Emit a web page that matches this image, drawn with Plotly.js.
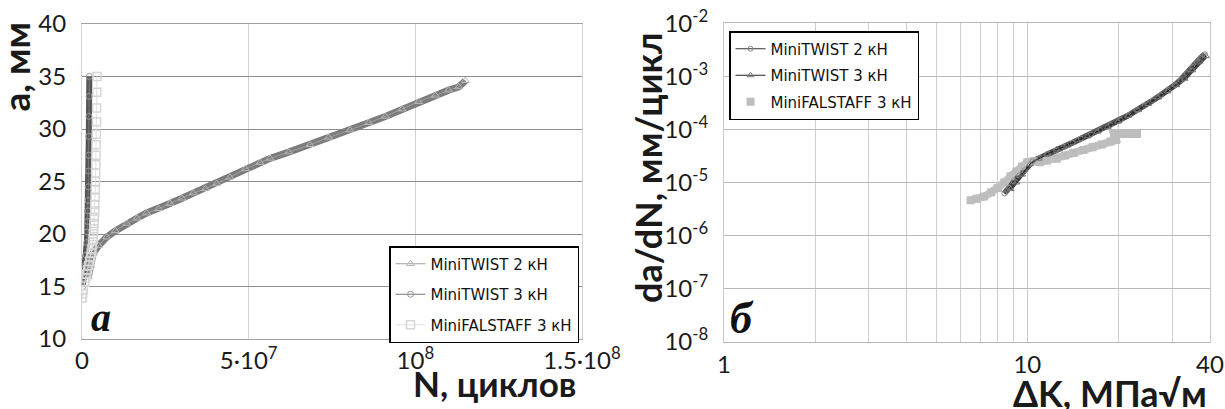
<!DOCTYPE html>
<html>
<head>
<meta charset="utf-8">
<script src="https://cdn.plot.ly/plotly-3.0.1.min.js"></script>
<style>html,body{margin:0;padding:0;background:#fff;}#chart{width:1225px;height:409px;}</style>
</head>
<body>
<div id="chart"></div>
<script>
// ---------- Panel a: crack length a (mm) vs number of cycles N ----------
const twist2N = [1.9e6, 2.6e6, 3.4e6, 5.0e6, 7.4e6, 1.0e7, 1.34e7, 1.65e7, 1.94e7, 2.3e7, 2.64e7, 3.0e7, 3.34e7, 3.7e7, 4.04e7, 4.44e7, 4.9e7, 5.34e7, 5.64e7, 6.2e7, 6.84e7, 7.4e7, 8.04e7, 8.6e7, 9.1e7, 9.6e7, 1.01e8, 1.06e8, 1.10e8, 1.13e8, 1.15e8];
const twist2A = [15.9, 17.0, 18.2, 18.9, 19.7, 20.3, 21.0, 21.5, 22.0, 22.4, 22.9, 23.4, 23.9, 24.3, 24.8, 25.4, 26.2, 26.8, 27.2, 27.8, 28.5, 29.2, 29.9, 30.6, 31.2, 31.9, 32.6, 33.2, 33.7, 34.0, 34.6];

const twist3N = [0.2e6, 0.5e6, 0.9e6, 1.2e6, 1.45e6, 1.58e6, 1.68e6, 1.76e6, 1.83e6, 1.89e6, 1.94e6, 1.99e6, 2.04e6, 2.09e6, 2.15e6, 2.2e6];
const twist3A = [15.0, 15.8, 17.0, 18.0, 19.2, 20.2, 21.2, 22.2, 23.2, 24.5, 26.0, 27.5, 29.3, 31.2, 33.1, 35.0];

const falstaffN = [0.05e6, 0.2e6, 0.4e6, 0.8e6, 1.1e6, 1.4e6, 1.7e6, 2.0e6, 2.3e6, 2.6e6, 2.8e6, 3.0e6, 3.15e6, 3.3e6, 3.4e6, 3.5e6, 3.6e6, 3.7e6, 3.8e6, 3.85e6, 3.95e6, 4.0e6, 4.05e6, 4.1e6, 4.15e6, 4.2e6, 4.25e6, 4.3e6, 4.35e6, 4.4e6, 4.45e6, 4.5e6];
const falstaffA = [13.9, 14.3, 14.7, 15.4, 15.8, 16.2, 16.6, 17.0, 17.4, 17.8, 18.2, 18.6, 19.0, 19.5, 20.0, 20.5, 21.0, 21.6, 22.2, 22.8, 23.5, 24.2, 25.0, 25.8, 26.6, 27.5, 28.5, 29.5, 30.7, 32.0, 33.5, 35.0];

const nTickVals = [0, 5e7, 1e8, 1.5e8];
const nTickText = ['0', '5·10<sup>7</sup>', '10<sup>8</sup>', '1.5·10<sup>8</sup>'];
const aTickVals = [10, 15, 20, 25, 30, 35, 40];

// ---------- Panel б: da/dN vs ΔK ----------
const dk2 = [8.4, 8.7, 9.0, 9.4, 9.8, 10.4, 11.0, 11.7, 12.4, 13.2, 14.1, 15.0, 16.2, 17.4, 18.8, 20.3, 21.6, 22.9, 24.4, 25.9, 27.5, 29.2, 30.6, 32.0, 33.5, 35.0, 36.2, 37.2, 38.5];
const rate2 = [6.2e-6, 8.0e-6, 1.05e-5, 1.35e-5, 1.7e-5, 2.5e-5, 2.9e-5, 3.5e-5, 4.0e-5, 4.7e-5, 5.6e-5, 6.7e-5, 8.0e-5, 9.7e-5, 1.2e-4, 1.5e-4, 1.85e-4, 2.3e-4, 2.8e-4, 3.5e-4, 4.4e-4, 5.5e-4, 6.8e-4, 8.5e-4, 1.15e-3, 1.5e-3, 1.85e-3, 2.2e-3, 2.6e-3];

const dk3 = [8.8, 9.2, 9.6, 10.2, 10.9, 11.6, 12.5, 13.5, 14.6, 15.8, 17.0, 18.4, 19.9, 21.5, 23.2, 25.0, 27.0, 29.0, 31.0, 33.0, 35.0, 37.0, 38.8];
const rate3 = [7.5e-6, 1.0e-5, 1.4e-5, 2.2e-5, 2.8e-5, 3.4e-5, 4.2e-5, 5.0e-5, 6.2e-5, 7.4e-5, 9.0e-5, 1.1e-4, 1.4e-4, 1.8e-4, 2.3e-4, 3.0e-4, 4.0e-4, 5.2e-4, 6.8e-4, 9.0e-4, 1.3e-3, 1.9e-3, 2.4e-3];

const dkF = [6.5, 6.8, 7.2, 7.6, 8.0, 8.4, 8.8, 9.2, 9.6, 10.0, 10.5, 11.0, 11.6, 12.5, 13.3, 14.2, 15.3, 16.4, 17.6, 18.8, 19.6, 19.3, 20.2, 21.2, 22.2, 23.0];
const rateF = [4.6e-6, 4.9e-6, 5.4e-6, 6.5e-6, 7.8e-6, 1.0e-5, 1.3e-5, 1.6e-5, 2.0e-5, 2.4e-5, 2.5e-5, 2.4e-5, 2.6e-5, 2.8e-5, 3.2e-5, 3.6e-5, 4.1e-5, 4.6e-5, 5.2e-5, 5.9e-5, 6.3e-5, 8.3e-5, 8.3e-5, 8.2e-5, 8.3e-5, 8.2e-5];

const dkTickVals = [1, 10, 40];
const dkTickText = ['1', '10', '40'];
const dkMinor = [2, 3, 4, 5, 6, 7, 8, 9, 20, 30];
const rateTickVals = [1e-8, 1e-7, 1e-6, 1e-5, 1e-4, 1e-3, 1e-2];
const rateTickText = ['10<sup>-8</sup>', '10<sup>-7</sup>', '10<sup>-6</sup>', '10<sup>-5</sup>', '10<sup>-4</sup>', '10<sup>-3</sup>', '10<sup>-2</sup>'];

const names = ['MiniTWIST 2 кН', 'MiniTWIST 3 кН', 'MiniFALSTAFF 3 кН'];

const W = 1225, H = 409;
const px = v => v / W;
const py = v => (H - v) / H;

const traces = [
  // panel a
  {x: twist2N, y: twist2A, xaxis: 'x', yaxis: 'y', mode: 'lines', line: {color: '#7c7c7c', width: 7}, showlegend: false, legendgroup: 'a1', hoverinfo: 'skip'},
  {x: twist2N, y: twist2A, xaxis: 'x', yaxis: 'y', mode: 'lines+markers', name: names[0], legendgroup: 'a1', legendrank: 1,
   line: {color: '#a0a0a0', width: 1}, marker: {symbol: 'triangle-up-open', size: 7, color: '#b8b8b8', line: {width: 1}}},
  {x: twist3N, y: twist3A, xaxis: 'x', yaxis: 'y', mode: 'lines', line: {color: '#555555', width: 6}, showlegend: false, legendgroup: 'a2', hoverinfo: 'skip'},
  {x: twist3N, y: twist3A, xaxis: 'x', yaxis: 'y', mode: 'lines+markers', name: names[1], legendgroup: 'a2', legendrank: 2,
   line: {color: '#777777', width: 1}, marker: {symbol: 'circle-open', size: 6, color: '#999999', line: {width: 1}}},
  {x: falstaffN, y: falstaffA, xaxis: 'x', yaxis: 'y', mode: 'lines+markers', name: names[2], legendgroup: 'a3', legendrank: 3,
   line: {color: '#e2e2e2', width: 1}, marker: {symbol: 'square-open', size: 8, color: '#d6d6d6', line: {width: 1.5}}},
  // panel б
  {x: dkF, y: rateF, xaxis: 'x2', yaxis: 'y2', mode: 'lines', line: {color: '#c4c4c4', width: 8}, showlegend: false, legendgroup: 'b3', hoverinfo: 'skip'},
  {x: dk2, y: rate2, xaxis: 'x2', yaxis: 'y2', mode: 'lines', line: {color: '#5a5a5a', width: 6}, showlegend: false, legendgroup: 'b1', hoverinfo: 'skip'},
  {x: dk3, y: rate3, xaxis: 'x2', yaxis: 'y2', mode: 'lines', line: {color: '#444444', width: 4}, showlegend: false, legendgroup: 'b2', hoverinfo: 'skip'},
  {x: dkF, y: rateF, xaxis: 'x2', yaxis: 'y2', mode: 'markers', name: names[2], legend: 'legend2', legendgroup: 'b3', legendrank: 3,
   marker: {symbol: 'square', size: 8, color: '#bdbdbd'}},
  {x: dk2, y: rate2, xaxis: 'x2', yaxis: 'y2', mode: 'lines+markers', name: names[0], legend: 'legend2', legendgroup: 'b1', legendrank: 1,
   line: {color: '#333333', width: 1}, marker: {symbol: 'circle-open', size: 5, color: '#888888', line: {width: 1}}},
  {x: dk3, y: rate3, xaxis: 'x2', yaxis: 'y2', mode: 'lines+markers', name: names[1], legend: 'legend2', legendgroup: 'b2', legendrank: 2,
   line: {color: '#222222', width: 1}, marker: {symbol: 'triangle-up-open', size: 6, color: '#777777', line: {width: 1}}}
];

const tickFont = {family: 'Lato, "DejaVu Sans", sans-serif', size: 24, color: '#1a1a1a'};
const titleFont = {family: 'Lato, "DejaVu Sans", sans-serif', size: 35, color: '#1a1a1a'};
const legFont = {family: '"DejaVu Sans", sans-serif', size: 15, color: '#111'};

const layout = {
  width: W, height: H,
  margin: {l: 0, r: 0, t: 0, b: 0},
  paper_bgcolor: '#ffffff', plot_bgcolor: '#ffffff',
  showlegend: true,
  xaxis: {domain: [px(82), px(582)], range: [0, 1.5e8], tickmode: 'array', tickvals: nTickVals, ticktext: nTickText,
          showgrid: true, gridcolor: '#d2d2d2', gridwidth: 1, zeroline: false, showline: true, linecolor: '#a0a0a0', linewidth: 1, mirror: true,
          ticks: '', tickfont: tickFont, anchor: 'y'},
  yaxis: {domain: [py(339), py(24)], range: [10, 40], tickmode: 'array', tickvals: aTickVals,
          showgrid: true, gridcolor: '#8e8e8e', gridwidth: 1, zeroline: false, showline: true, linecolor: '#d2d2d2', linewidth: 1, mirror: true,
          ticks: '', ticklabelstandoff: 10, tickfont: tickFont, anchor: 'x'},
  xaxis2: {domain: [px(724), px(1210)], type: 'log', range: [0, Math.log10(40)], tickmode: 'array', tickvals: dkTickVals, ticktext: dkTickText,
           showgrid: true, gridcolor: '#c8c8c8', gridwidth: 1, zeroline: false, showline: true, linecolor: '#b8b8b8', linewidth: 1, mirror: true,
           ticks: '', ticklabelstandoff: 2, tickfont: tickFont, anchor: 'y2',
           minor: {tickmode: 'array', tickvals: dkMinor, showgrid: true, gridcolor: '#cdcdcd', gridwidth: 1, ticks: ''}},
  yaxis2: {domain: [py(341.5), py(23.3)], type: 'log', range: [-8, -2], tickmode: 'array', tickvals: rateTickVals, ticktext: rateTickText,
           showgrid: true, gridcolor: '#b8b8b8', gridwidth: 1, zeroline: false, showline: true, linecolor: '#c8c8c8', linewidth: 1, mirror: true,
           ticks: '', ticklabelstandoff: 10, tickfont: tickFont, anchor: 'x2'},
  legend: {x: px(579), y: py(246), xanchor: 'right', yanchor: 'top', bgcolor: '#ffffff', bordercolor: '#000000', borderwidth: 1.5,
           font: legFont, itemwidth: 30, tracegroupgap: 8, traceorder: 'grouped'},
  legend2: {x: px(729), y: py(31), xanchor: 'left', yanchor: 'top', bgcolor: '#ffffff', bordercolor: '#000000', borderwidth: 1.5,
            font: legFont, itemwidth: 30, tracegroupgap: 4, traceorder: 'grouped'},
  annotations: [
    {text: '<b>a, мм</b>', xref: 'paper', yref: 'paper', x: px(15), y: py(21), xanchor: 'center', yanchor: 'top', textangle: -90, showarrow: false,
     font: {family: titleFont.family, size: 37, color: '#1a1a1a'}},
    {text: '<b>N, циклов</b>', xref: 'paper', yref: 'paper', x: px(578), y: py(383), xanchor: 'right', yanchor: 'middle', showarrow: false, font: titleFont},
    {text: '<b>da/dN, мм/цикл</b>', xref: 'paper', yref: 'paper', x: px(648), y: py(168), xanchor: 'center', yanchor: 'middle', textangle: -90, showarrow: false,
     font: {family: titleFont.family, size: 36, color: '#1a1a1a'}},
    {text: '<b>ΔK, МПа√м</b>', xref: 'paper', yref: 'paper', x: px(1209), y: py(393), xanchor: 'right', yanchor: 'middle', showarrow: false,
     font: {family: titleFont.family, size: 36, color: '#1a1a1a'}},
    {text: '<b><i>а</i></b>', xref: 'paper', yref: 'paper', x: px(101), y: py(317), xanchor: 'center', yanchor: 'middle', showarrow: false,
     font: {family: '"Liberation Serif", "DejaVu Serif", serif', size: 40, color: '#111'}},
    {text: '<b><i>б</i></b>', xref: 'paper', yref: 'paper', x: px(742), y: py(318), xanchor: 'center', yanchor: 'middle', showarrow: false,
     font: {family: '"Liberation Serif", "DejaVu Serif", serif', size: 44, color: '#111'}}
  ]
};

Plotly.newPlot('chart', traces, layout, {staticPlot: true, displayModeBar: false});
</script>
</body>
</html>
